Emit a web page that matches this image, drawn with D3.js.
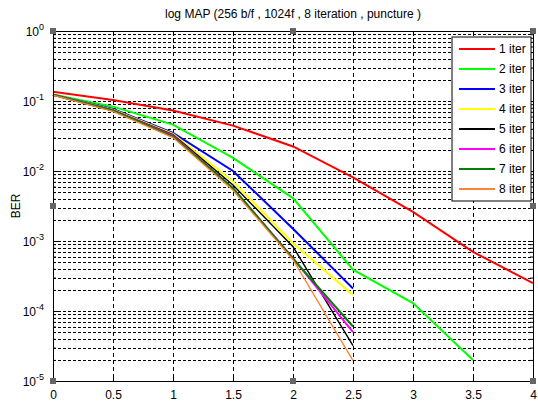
<!DOCTYPE html>
<html>
<head>
<meta charset="utf-8">
<script src="https://cdn.jsdelivr.net/npm/d3@7"></script>
<style>
body { margin: 0; background: #fff; }
text { font-family: "Liberation Sans", Arial, sans-serif; }
</style>
</head>
<body>
<div id="grafico"></div>
<script>
// datos
var titulo = "log MAP (256 b/f , 1024f , 8 iteration , puncture )";
var snr = [0, 0.5, 1, 1.5, 2, 2.5, 3, 3.5, 4];
var iter1 = [0.136, 0.103, 0.073, 0.0445, 0.0224, 0.0081, 0.0026, 0.0007, 0.00025];
var iter2 = [0.124, 0.083, 0.046, 0.0154, 0.0041, 0.00039, 0.00013, 0.00002];
var iter3 = [0.123, 0.077, 0.035, 0.0100, 0.0015, 0.00021];
var iter4 = [0.123, 0.075, 0.034, 0.0071, 0.00093, 0.00017];
var iter5 = [0.123, 0.074, 0.033, 0.0063, 0.00083, 0.000032];
var iter6 = [0.123, 0.073, 0.032, 0.0057, 0.00057, 0.00005];
var iter7 = [0.123, 0.073, 0.031, 0.0057, 0.00056, 0.00006];
var iter8 = [0.121, 0.071, 0.030, 0.0053, 0.00054, 0.0000195];
var nombres = ["1 iter", "2 iter", "3 iter", "4 iter", "5 iter", "6 iter", "7 iter", "8 iter"];
var colores = ["#ff0000", "#00ff00", "#0000ff", "#ffff00", "#000000", "#ff00ff", "#008000", "#ff8033"];
var grosores = [2, 2, 2, 2, 1.4, 2, 2, 1.3];
var xTicks = [0, 0.5, 1, 1.5, 2, 2.5, 3, 3.5, 4];
var yExponentes = [0, -1, -2, -3, -4, -5];

var series = [iter1, iter2, iter3, iter4, iter5, iter6, iter7, iter8];

var margin = { top: 31, right: 5, bottom: 21, left: 53 };
var canvas = d3.select("#grafico").append("svg").attr("width", 538).attr("height", 402);
var width = 538 - margin.left - margin.right;
var height = 402 - margin.top - margin.bottom;

var xScale = d3.scaleLinear().domain([0, 4]).range([0, width]);
var yScale = d3.scaleLog().domain([1e-5, 1]).range([height, 0]);

var g = canvas.append("g")
    .attr("transform", "translate(" + margin.left + "," + margin.top + ")");

g.append("rect").attr("width", width).attr("height", height).attr("fill", "#fff");

// valores menores del eje log
var menores = [];
for (var e = -5; e < 0; e++) {
    for (var k = 2; k <= 9; k++) menores.push(k * Math.pow(10, e));
}
var mayores = yExponentes.map(function (e) { return Math.pow(10, e); });

// grilla
g.selectAll(".gridy")
    .data(menores.concat(mayores.slice(1, 5)))
    .enter().append("line")
    .attr("x1", 0).attr("x2", width)
    .attr("y1", function (d) { return Math.round(yScale(d)) + 0.5; })
    .attr("y2", function (d) { return Math.round(yScale(d)) + 0.5; })
    .attr("stroke", "#000").attr("stroke-width", 1)
    .attr("stroke-dasharray", "3,2");

g.selectAll(".gridx")
    .data(xTicks.slice(1, 8))
    .enter().append("line")
    .attr("y1", 0).attr("y2", height)
    .attr("x1", function (d) { return Math.round(xScale(d)) + 0.5; })
    .attr("x2", function (d) { return Math.round(xScale(d)) + 0.5; })
    .attr("stroke", "#000").attr("stroke-width", 1)
    .attr("stroke-dasharray", "4,3");

// curvas
var linea = d3.line()
    .x(function (d, i) { return xScale(snr[i]); })
    .y(function (d) { return yScale(d); });

series.forEach(function (s, i) {
    g.append("path")
        .datum(s)
        .attr("d", linea)
        .attr("fill", "none")
        .attr("stroke", colores[i])
        .attr("stroke-width", grosores[i]);
});

// ejes (ticks hacia adentro)
g.append("g")
    .attr("transform", "translate(0," + height + ")")
    .call(d3.axisBottom(xScale).tickValues(xTicks).tickSize(-5).tickPadding(9)
        .tickFormat(function (d) { return d; }))
    .call(function (a) {
        a.select(".domain").attr("stroke", "#000");
        a.selectAll("text").attr("font-size", 12).attr("fill", "#000");
    });
g.append("g")
    .call(d3.axisTop(xScale).tickValues(xTicks).tickSize(-5).tickFormat(""));

g.append("g")
    .call(d3.axisLeft(yScale).tickValues(mayores).tickSize(-5).tickFormat(""));
g.append("g")
    .call(d3.axisLeft(yScale).tickValues(menores).tickSize(-3).tickFormat(""))
    .select(".domain").remove();
g.append("g")
    .attr("transform", "translate(" + width + ",0)")
    .call(d3.axisRight(yScale).tickValues(mayores).tickSize(-5).tickFormat(""));
g.append("g")
    .attr("transform", "translate(" + width + ",0)")
    .call(d3.axisRight(yScale).tickValues(menores).tickSize(-3).tickFormat(""))
    .select(".domain").remove();

// etiquetas 10^n
var etq = g.selectAll(".ety")
    .data(yExponentes)
    .enter().append("text")
    .attr("x", -9)
    .attr("y", function (d) { return yScale(Math.pow(10, d)) + 5; })
    .attr("text-anchor", "end")
    .attr("font-size", 12)
    .attr("fill", "#000");
etq.append("tspan").text("10");
etq.append("tspan").attr("dy", -6).attr("font-size", 9).text(function (d) { return d; });

// titulo y BER
canvas.append("text")
    .attr("x", margin.left + width / 2)
    .attr("y", 18)
    .attr("text-anchor", "middle")
    .attr("font-size", 12)
    .attr("fill", "#000")
    .text(titulo);

canvas.append("text")
    .attr("transform", "translate(20," + (margin.top + height / 2) + ") rotate(-90)")
    .attr("text-anchor", "middle")
    .attr("font-size", 12)
    .attr("fill", "#000")
    .text("BER");

// leyenda
var ley = g.append("g").attr("transform", "translate(" + (width - 81) + ",6)");
ley.append("rect")
    .attr("width", 79).attr("height", 164)
    .attr("fill", "#fff").attr("stroke", "#000");
nombres.forEach(function (n, i) {
    ley.append("line")
        .attr("x1", 7).attr("x2", 43)
        .attr("y1", 12 + i * 20).attr("y2", 12 + i * 20)
        .attr("stroke", colores[i]).attr("stroke-width", 2);
    ley.append("text")
        .attr("x", 47).attr("y", 16 + i * 20)
        .attr("font-size", 12).attr("fill", "#000")
        .text(n);
});

// marcas de seleccion (cuadritos grises)
var medio = Math.pow(10, -2.5);
var marcas = [[0, 1], [2, 1], [4, 1], [0, medio], [4, medio], [0, 1e-5], [2, 1e-5], [4, 1e-5]];
g.selectAll(".marca")
    .data(marcas)
    .enter().append("rect")
    .attr("x", function (d) { return xScale(d[0]) - 3; })
    .attr("y", function (d) { return yScale(d[1]) - 3; })
    .attr("width", 6).attr("height", 6)
    .attr("fill", "#666");
</script>
</body>
</html>
